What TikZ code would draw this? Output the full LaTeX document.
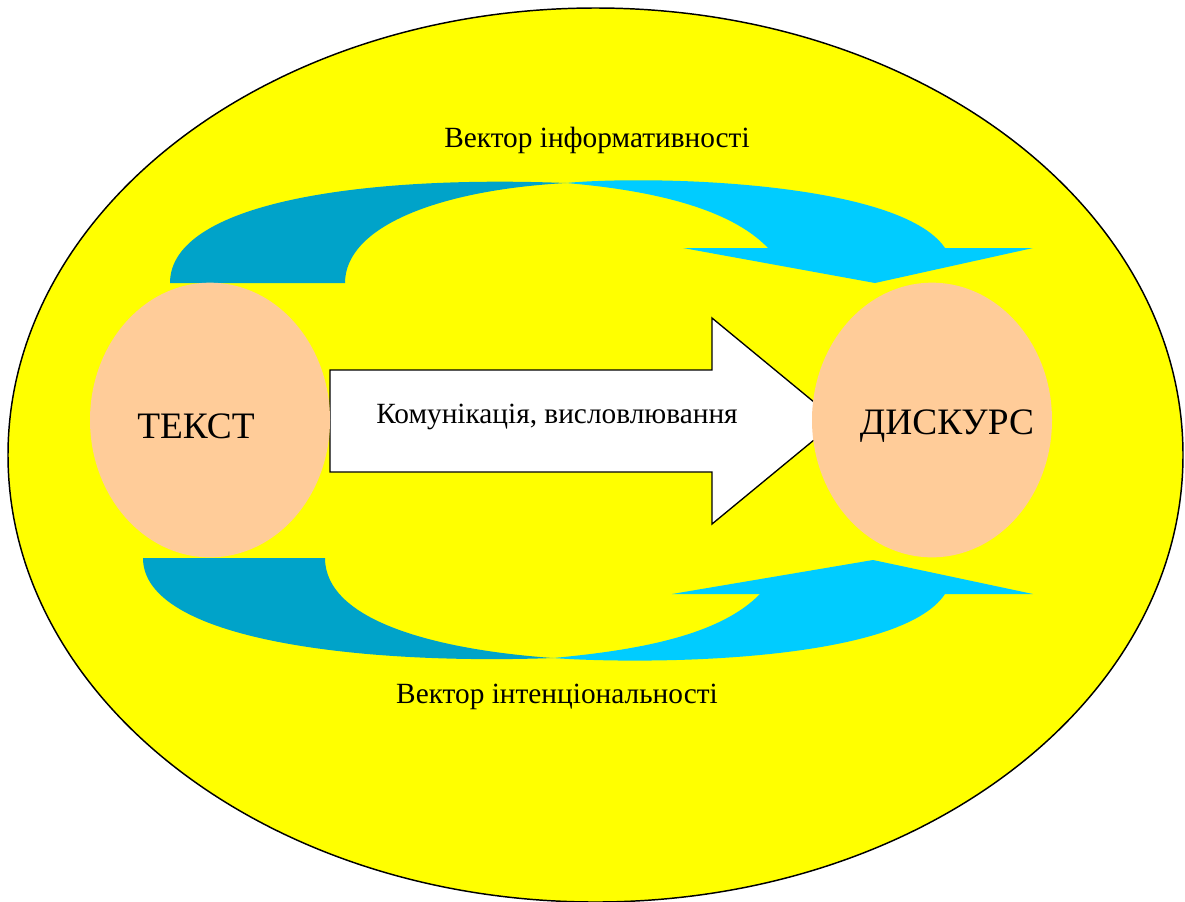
\documentclass[tikz,border=0pt]{standalone}
\usepackage{fontspec}
\setmainfont{Liberation Serif}
\usetikzlibrary{shapes.geometric}
\definecolor{fieldyellow}{RGB}{255,255,0}
\definecolor{peach}{RGB}{255,204,153}
\definecolor{backcyan}{RGB}{0,163,201}
\definecolor{frontcyan}{RGB}{0,204,255}

\begin{document}
\begin{tikzpicture}[x=0.75pt, y=-0.75pt]
        \tikzstyle{blob} = [ellipse, fill=peach, minimum width=180pt, minimum height=206pt, inner sep=0pt]
        \tikzstyle{bigword} = [yshift=-4.5pt, font=\fontsize{28}{32}\selectfont]
        \tikzstyle{caption} = [anchor=base, font=\fontsize{22}{26}\selectfont]
        \tikzstyle{back} = [fill=backcyan, draw=none]
        \tikzstyle{front} = [fill=frontcyan, draw=none]
        \useasboundingbox (0,0) rectangle (1185,901);

        % yellow field
        \begin{scope}
                \clip (0,0) rectangle (1185,901);
                \draw[fill=fieldyellow, line width=1.1pt] (595.5,455) ellipse (587.5 and 447);
        \end{scope}

        % upper curved arrow
        \path[back] (170,283) -- (345,283)
                .. controls (345,226) and (440,190) .. (566,183)
                .. controls (360,175) and (170,203) .. cycle;
        \path[front] (566,183)
                .. controls (650,175) and (900,181) .. (945,248)
                -- (1033,248) -- (875,283) -- (683,248) -- (768,248)
                .. controls (730,208) and (650,190) .. cycle;

        % lower curved arrow
        \path[back] (143,558) -- (325,558)
                .. controls (325,622) and (440,650) .. (553,658)
                .. controls (360,665) and (143,640) .. cycle;
        \path[front] (553,658)
                .. controls (650,665) and (900,662) .. (945,594)
                -- (1033,594) -- (873,560) -- (672,594) -- (760,594)
                .. controls (720,635) and (640,650) .. cycle;

        % big white arrow
        \draw[fill=white, line width=1pt] (330,370) -- (712,370) -- (712,318)
                -- (837,421) -- (712,524) -- (712,472) -- (330,472) -- cycle;
        \node[caption] (talk) at (557,423) {Комунікація, висловлювання};

        \node[blob, label={[bigword, xshift=-10.5pt]center:ТЕКСТ}] (tekst) at (210,420) {};
        \node[blob, label={[bigword, xshift=11.25pt]center:ДИСКУРС}] (diskurs) at (932,420) {};

        \node[caption] (inform) at (597,147) {Вектор інформативності};
        \node[caption] (intent) at (557,703) {Вектор інтенціональності};
\end{tikzpicture}
\end{document}
